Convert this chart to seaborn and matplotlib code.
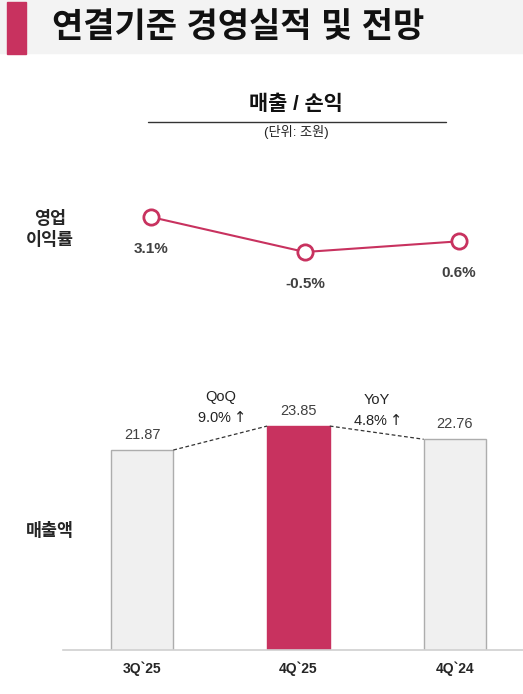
import matplotlib
matplotlib.use('Agg')
import matplotlib.pyplot as plt
import seaborn as sns
import pandas as pd
from matplotlib.patches import Rectangle

periods = ['3Q`25', '4Q`25', '4Q`24']
margin = [3.1, -0.5, 0.6]
margin_labels = ['3.1%', '-0.5%', '0.6%']
sales = [21.87, 23.85, 22.76]
sales_labels = ['21.87', '23.85', '22.76']
change_names = ['QoQ', 'YoY']
change_values = ['9.0%', '4.8%']

sns.set_style('white')
plt.rcParams['font.family'] = ['Liberation Sans', 'Noto Sans CJK KR', 'DejaVu Sans']

MAGENTA = '#C8325F'
W, H = 523, 694
fig = plt.figure(figsize=(W / 100, H / 100), dpi=100)


def px_axes(x0, y0, x1, y1):
    return fig.add_axes([x0 / W, 1 - y1 / H, (x1 - x0) / W, (y1 - y0) / H])


# header band
fig.patches.append(Rectangle((0, 1 - 53 / H), 1, 53 / H, transform=fig.transFigure,
                             color='#F3F3F3', zorder=0))
fig.patches.append(Rectangle((7 / W, 1 - 54 / H), 19 / W, 52 / H, transform=fig.transFigure,
                             color=MAGENTA, zorder=1))
fig.text(52 / W, 1 - 28 / H, '연결기준 경영실적 및 전망', fontsize=24.5, fontweight='bold',
         va='center', ha='left', color='#111111')

fig.text(296 / W, 1 - 104 / H, '매출 / 손익', fontsize=15, fontweight='bold',
         ha='center', va='center', color='#111111')
fig.add_artist(plt.Line2D([148 / W, 446 / W], [1 - 122 / H, 1 - 122 / H],
                          transform=fig.transFigure, color='#333333', lw=1))
fig.text(296 / W, 1 - 132 / H, '(단위: 조원)', fontsize=9.5, ha='center', va='center',
         color='#222222')

fig.text(50 / W, 1 - 229 / H, '영업\n이익률', fontsize=12.5, fontweight='bold',
         ha='center', va='center', linespacing=1.35)
fig.text(50 / W, 1 - 530 / H, '매출액', fontsize=12.5, fontweight='bold',
         ha='center', va='center')

# operating margin line
ax1 = px_axes(63, 190, 523, 300)
df_m = pd.DataFrame({'pos': [0, 1, 2], 'margin': margin})
sns.lineplot(data=df_m, x='pos', y='margin', ax=ax1, color=MAGENTA, lw=1.5,
             marker='o', markersize=11, markerfacecolor='white',
             markeredgecolor=MAGENTA, markeredgewidth=2)
for i, (v, lab) in enumerate(zip(margin, margin_labels)):
    ax1.annotate(lab, (i, v), xytext=(0, -23), textcoords='offset points',
                 ha='center', va='center', fontsize=11, fontweight='bold', color='#404040')
ax1.set_xlim(-0.571, 2.416)
ax1.set_ylim(-5.44, 5.88)
ax1.axis('off')

# sales bars
ax2 = px_axes(63, 380, 523, 650)
df_s = pd.DataFrame({'period': periods, 'sales': sales})
sns.barplot(data=df_s, x='period', y='sales', hue='period', legend=False, ax=ax2,
            palette=['#F0F0F0', MAGENTA, '#F0F0F0'], width=0.40, saturation=1)
edges = ['#ADADAD', MAGENTA, '#ADADAD']
for bar, ec in zip(ax2.patches, edges):
    bar.set_edgecolor(ec)
    bar.set_linewidth(1)
for i, (v, lab) in enumerate(zip(sales, sales_labels)):
    ax2.annotate(lab, (i, v), xytext=(0, 11), textcoords='offset points',
                 ha='center', va='center', fontsize=10.5, color='#404040')

# dashed connectors between bar tops
hw = 0.20
for i in range(2):
    ax2.plot([i + hw, i + 1 - hw], [sales[i], sales[i + 1]], lw=0.9,
             color='#333333', dashes=(3, 2))
    top = max(sales[i], sales[i + 1])
    ax2.annotate(change_names[i] + '\n' + change_values[i] + r'$\uparrow$', (i + 0.5, top),
                 xytext=(0, 11 + 2 * (1 - i)), textcoords='offset points', ha='center',
                 va='center', fontsize=10.5, color='#222222', linespacing=1.5)

ax2.set_xlim(-0.505, 2.435)
ax2.set_ylim(5.37, 27.65)
ax2.set_xlabel('')
ax2.set_ylabel('')
ax2.set_yticks([])
ax2.tick_params(axis='x', length=0, pad=8)
for t in ax2.get_xticklabels():
    t.set_fontweight('bold')
    t.set_fontsize(10)
for s in ['top', 'right', 'left']:
    ax2.spines[s].set_visible(False)
ax2.spines['bottom'].set_color('#D0D0D0')
ax2.spines['bottom'].set_linewidth(1.2)

fig.savefig('out.png', dpi=100)
